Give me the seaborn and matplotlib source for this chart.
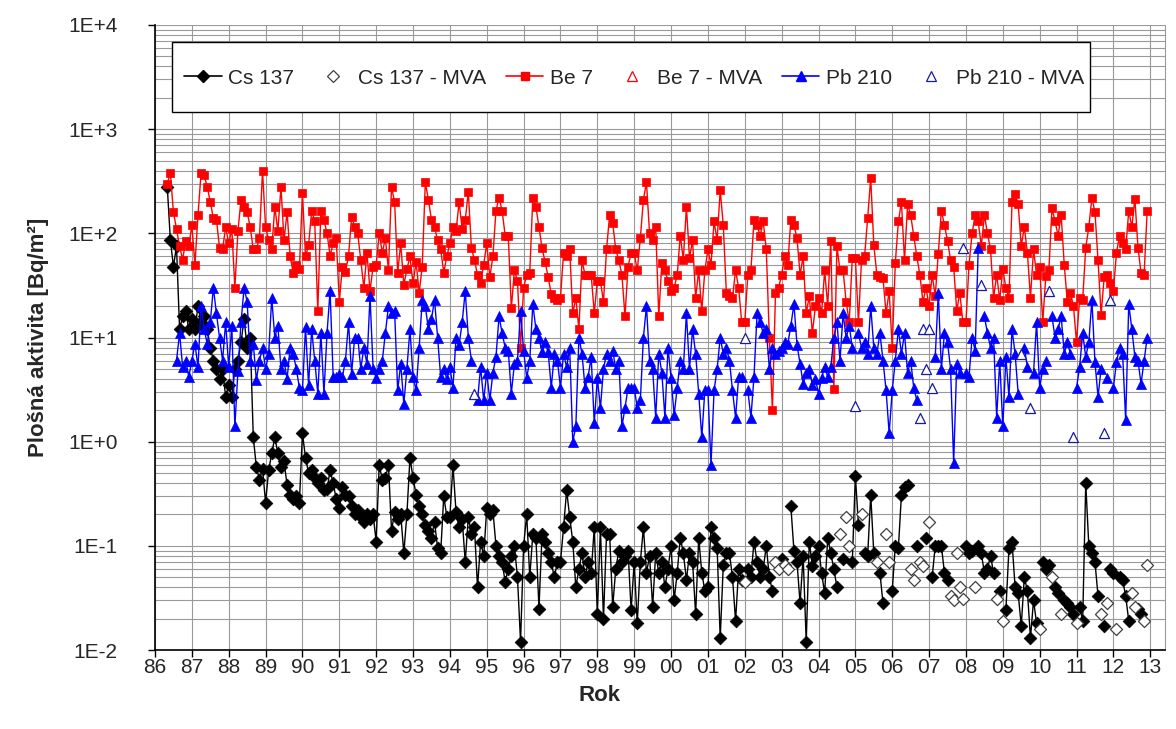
import numpy as np
import pandas as pd
import matplotlib
matplotlib.use("Agg")
import matplotlib.pyplot as plt
from matplotlib.lines import Line2D
from matplotlib.patches import Rectangle
from matplotlib.ticker import FixedLocator, FuncFormatter, LogLocator, NullFormatter
import seaborn as sns

# Monthly deposition series, first value = May 1986; None = month not measured / below MVA
START_YEAR, START_MONTH = 1986, 5

cs137 = [
    280, 86, 48, 75, 12, 16, 18, 12,
    15, 12, 20, 14, 16, 12, 8, 6, 5, 4, 5, 2.7,
    3.5, 2.7, 5, 6, 9, 15, 8, 10, 1.1, 0.57, 0.43, 0.55,
    0.26, 0.53, 0.77, 1.1, 0.77, 0.57, 0.65, 0.38, 0.31, 0.28, 0.3, 0.26,
    1.2, 0.7, 0.5, 0.53, 0.45, 0.4, 0.45, 0.34, 0.35, 0.53, 0.4, 0.28,
    0.23, 0.37, 0.31, 0.3, 0.24, 0.2, 0.22, 0.19, 0.17, 0.2, 0.18, 0.2,
    0.11, 0.6, 0.43, 0.45, 0.6, 0.14, 0.21, 0.18, 0.2, 0.085, 0.2, 0.7,
    0.45, 0.31, 0.24, 0.2, 0.16, 0.14, 0.12, 0.17, 0.095, 0.085, 0.3, 0.19,
    0.19, 0.6, 0.21, 0.15, 0.18, 0.07, 0.19, 0.13, 0.15, 0.04, 0.11, 0.08,
    0.23, 0.2, 0.22, 0.1, 0.08, 0.07, 0.045, 0.06, 0.08, 0.1, 0.05, 0.012,
    0.1, 0.2, 0.05, 0.13, 0.12, 0.025, 0.13, 0.11, 0.085, 0.07, 0.05, 0.07,
    0.07, 0.15, 0.34, 0.19, 0.11, 0.04, 0.06, 0.085, 0.05, 0.07, 0.055, 0.15,
    0.022, 0.15, 0.02, 0.13, 0.13, 0.026, 0.06, 0.09, 0.07, 0.08, 0.09, 0.024,
    0.07, 0.018, 0.07, 0.15, 0.055, 0.08, 0.026, 0.085, 0.055, 0.07, 0.04, 0.06,
    0.1, 0.03, 0.055, 0.12, 0.085, 0.047, 0.085, 0.07, 0.022, 0.12, 0.055, 0.037,
    0.04, 0.15, 0.12, 0.095, 0.013, 0.065, 0.085, 0.085, 0.05, 0.019, 0.06, 0.047,
    None, 0.06, 0.05, 0.11, 0.07, 0.05, 0.06, 0.1, 0.05, 0.037, None, None,
    0.075, None, None, 0.24, 0.09, 0.07, 0.028, 0.08, 0.012, 0.11, 0.064, 0.08,
    0.1, 0.055, 0.035, 0.12, 0.085, 0.06, 0.04, None, 0.075, None, None, 0.07,
    0.47, 0.16, None, 0.085, 0.08, 0.31, 0.085, None, 0.055, 0.028, None, None,
    0.037, 0.1, 0.095, 0.31, 0.37, 0.38, None, None, 0.1, None, None, 0.12,
    None, 0.05, 0.1, 0.1, 0.1, 0.055, 0.047, None, None, None, None, None,
    0.1, 0.085, 0.09, None, 0.1, 0.085, 0.055, 0.06, 0.08, 0.055, None, 0.037,
    None, 0.024, 0.095, 0.11, 0.04, 0.035, 0.017, 0.05, 0.037, 0.013, 0.03, 0.018,
    None, 0.07, 0.06, 0.065, None, 0.04, 0.035, None, 0.03, 0.028, 0.026, 0.022,
    None, 0.026, 0.019, 0.4, 0.1, 0.085, 0.07, 0.033, None, 0.017, None, 0.06,
    0.055, None, 0.05, 0.047, 0.033, 0.019, None, None, 0.025, 0.022, None, None,
]

be7 = [
    300, 380, 160, 110, 75, 56, 85, 75,
    120, 50, 150, 380, 360, 280, 200, 140, 135, 73, 70, 115,
    80, 110, 30, 105, 210, 180, 160, 115, 70, 70, 90, 400,
    115, 86, 70, 180, 105, 280, 86, 160, 60, 42, 50, 45,
    245, 60, 77, 165, 130, 18, 165, 135, 100, 61, 80, 90,
    22, 48, 43, 60, 145, 115, 100, 55, 30, 65, 28, 48,
    50, 100, 65, 90, 44, 280, 200, 42, 80, 32, 45, 60,
    33, 53, 27, 48, 310, 210, 135, 115, 86, 70, 42, 60,
    80, 115, 105, 200, 110, 135, 250, 73, 55, 40, 33, 50,
    80, 38, 60, 165, 220, 165, 95, 95, 19, 44, 35, 8,
    30, 40, 42, 220, 180, 115, 72, 53, 38, 26, 24, 23,
    24, 65, 60, 70, 17, 24, 12, 55, 40, 40, 40, 17,
    35, 35, 22, 70, 150, 125, 70, 55, 40, 16, 48, 65,
    65, 44, 90, 210, 310, 100, 86, 115, 16, 52, 44, 35,
    28, 30, 40, 95, 56, 180, 58, 86, 24, 44, 18, 44,
    70, 50, 130, 86, 260, 120, 27, 25, 24, 44, 30, 14,
    14, 40, 44, 135, 120, 95, 130, 70, 10, 2, 27, 30,
    40, 60, 50, 135, 120, 90, 40, 60, 17, 25, 11, 20,
    24, 17, 44, 20, 85, 3.2, 75, 44, 44, 22, 14, 58,
    58, 14, 55, 60, 140, 340, 78, 40, 38, 37, 17, 28,
    8, 52, 130, 200, 55, 190, 150, 95, 60, 40, 22, 30,
    20, 40, 25, 64, 165, 120, 85, 55, 48, 18, 27, 14,
    14, 50, 100, 150, 130, 75, 150, 100, 70, 24, 40, 23,
    45, 30, 24, 200, 240, 190, 75, 115, 65, 24, 70, 40,
    48, 14, 39, 44, 175, 130, 95, 150, 50, 22, 27, 20,
    9, 24, 23, 73, 115, 220, 160, 55, 16.5, 38, 40, 33,
    28, 65, 95, 80, 70, 165, 115, 215, 73, 42, 40, 165,
]

pb210 = [
    None, None, None, 6, 11, 5.2, 6, 4.2,
    6, 8.7, 5.2, 20, 12, 8.7, 14, 30, 17, 10, 6, 14,
    5.2, 13, 1.4, 4.8, 14, 30, 22, 6, 8.7, 3.9, 6, 8,
    5, 7, 24, 10, 13, 5, 6, 4, 8, 7, 5, 3.3,
    3.1, 12.5, 3.5, 12, 6, 2.9, 11, 2.9, 11, 28, 4.2, 4.2,
    4.5, 4.2, 6, 14, 4.5, 10, 10, 5, 8, 5.6, 25, 5,
    4.1, 5, 6, 11, 20, 17, 18, 3.1, 5.6, 2.3, 5, 12,
    4.2, 3.1, 8, 23, 20, 12, 15, 23, 10, 4.2, 5, 4,
    5.2, 3.3, 10, 8.5, 14, 28, 10, 6, None, 2.5, 5.2, 2.5,
    4.6, 2.5, 4.6, 6.5, 16, 11, 8, 7.5, 2.9, 5.6, 6, 18,
    7.5, 4.1, 6, 21, 12, 10, 7.2, 9, 7.2, 3.3, 7, 6,
    3.3, 7, 5.2, 8, 1.0, 1.4, 10, 7, 3.3, 4.2, 6.5, 1.5,
    4.1, 2.1, 5, 7, 6, 7.5, 5, 6, 1.4, 2.1, 3.3, 3.3,
    3.3, 2.1, 2.5, 10, 20, 6, 5, 1.7, 7, 4.6, 1.7, 8,
    4.1, 1.8, 3.3, 6, 5, 17, 5, 12, 7, 2.9, 1.1, 3.1,
    3.1, 0.6, 3.1, 5, 10, 7, 8, 6, 3.1, 1.7, 4.2, 4.2,
    None, 3.1, 1.7, 4.2, 17, 14, 11, 12, 5, 8, 7, 7.5,
    8, 9, 8.7, 13, 21, 8.5, 5.6, 3.6, 4.6, 5, 3.5, 4,
    2.9, 4.1, 5.2, 4.2, 5.2, 10, 14, 6, 17, 10, 13, 8,
    None, 11, 8, 9, 7, 20, 8, 7, 11, 6, 3.1, 1.2,
    3.1, 6, 12, 7, 11, 4.6, 6, 3.3, 2.5, None, None, None,
    None, None, 6.5, 27, 5, 11, 9, 5, 0.62, 5.6, 4.6, None,
    4.6, 4.2, 10, 7.5, 72, None, 16, 11, 8, 10, 1.7, 6,
    1.4, 6.5, 2.7, 12, 7, 2.9, None, 8, 5.2, None, 4.6, 14,
    3.3, 5, 6, None, 16, 10, 12, 16, 7, 9, 7, None,
    3.3, 5.2, 11, 6.5, 9, 23, 5.8, 2.7, 5, None, 4.1, None,
    3.3, 5.8, 8, 7, 1.6, 21, 12, 6.5, 6, 3.6, 6, 10,
]

# Values below the minimum significant activity (MVA), by month
cs137_mva_months = [
    "2002-01", "2002-11", "2002-12", "2003-02", "2003-03", "2004-08", "2004-10",
    "2004-11", "2005-03", "2005-08", "2005-11", "2005-12", "2006-07", "2006-08",
    "2006-10", "2006-11", "2007-01", "2007-08", "2007-09", "2007-10", "2007-11",
    "2007-12", "2008-04", "2008-11", "2009-01", "2010-01", "2010-05", "2010-08",
    "2011-01", "2011-09", "2011-11", "2012-02", "2012-07", "2012-08", "2012-11",
    "2012-12",
]
cs137_mva = [
    0.045, 0.07, 0.06, 0.065, 0.06, 0.13, 0.19,
    0.1, 0.2, 0.07, 0.13, 0.07, 0.06, 0.047,
    0.07, 0.064, 0.17, 0.033, 0.03, 0.085, 0.04,
    0.031, 0.04, 0.031, 0.019, 0.016, 0.05, 0.022,
    0.018, 0.022, 0.028, 0.016, 0.035, 0.026, 0.019,
    0.065,
]

be7_mva_months = []
be7_mva = []

pb210_mva_months = [
    "1994-09", "2002-01", "2005-01", "2006-10", "2006-11", "2006-12", "2007-01",
    "2007-02", "2007-12", "2008-06", "2009-07", "2009-10", "2010-04", "2010-12",
    "2011-10", "2011-12",
]
pb210_mva = [2.9, 10, 2.2, 1.7, 12, 5, 12, 3.3, 72, 32, 7, 2.1, 28, 1.1, 1.2, 23]

year_ticks = list(range(1986, 2014))
decade_ticks = [1e-2, 1e-1, 1e0, 1e1, 1e2, 1e3, 1e4]

y_title = "Plošná aktivita [Bq/m²]"
x_title = "Rok"
labels = ["Cs 137", "Cs 137 - MVA", "Be 7", "Be 7 - MVA", "Pb 210", "Pb 210 - MVA"]


def month_pos(i):
    m = START_MONTH - 1 + i
    return START_YEAR + m // 12 + (m % 12) / 12


def ym_pos(s):
    y, m = (int(p) for p in s.split("-"))
    return y + (m - 1) / 12


def series_frame(values):
    v = pd.Series([np.nan if x is None else x for x in values], dtype=float)
    df = pd.DataFrame({"t": [month_pos(i) for i in range(len(values))], "v": v})
    df["seg"] = df["v"].isna().cumsum()
    return df.dropna()


def mva_frame(months, values):
    return pd.DataFrame({"t": [ym_pos(s) for s in months], "v": pd.Series(values, dtype=float)})


sns.set_theme(style="white")
plt.rcParams["font.family"] = ["Liberation Sans", "DejaVu Sans"]

W, H = 1176, 729
fig = plt.figure(figsize=(W / 100, H / 100), dpi=100)
ax = fig.add_axes([155 / W, 1 - 650 / H, 1010 / W, 625 / H])

RED = "#ff0000"
BLUE = "#0000ff"

styles = [
    (cs137, "black", "D", 42),
    (be7, RED, "s", 34),
    (pb210, BLUE, "^", 52),
]
z = 3
for values, color, marker, size in styles:
    df = series_frame(values)
    sns.lineplot(data=df, x="t", y="v", units="seg", estimator=None, sort=False,
                 color=color, lw=1.0, ax=ax, legend=False, zorder=z)
    sns.scatterplot(data=df, x="t", y="v", marker=marker, s=size, color=color,
                    edgecolor=color, linewidth=0.5, ax=ax, legend=False, zorder=z + 0.5)
    z += 1

mva_styles = [
    (cs137_mva_months, cs137_mva, "#404040", "D", 38),
    (be7_mva_months, be7_mva, RED, "^", 52),
    (pb210_mva_months, pb210_mva, "#1a1aa0", "^", 52),
]
for months, values, color, marker, size in mva_styles:
    if not months:
        continue
    df = mva_frame(months, values)
    sns.scatterplot(data=df, x="t", y="v", marker=marker, s=size, facecolor="white",
                    edgecolor=color, linewidth=0.9, ax=ax, legend=False, zorder=7)

ax.set_yscale("log")
ax.set_ylim(1e-2, 1e4)
ax.set_xlim(1986, 2013.4)

ax.xaxis.set_major_locator(FixedLocator(year_ticks))
ax.xaxis.set_major_formatter(FuncFormatter(lambda v, p: f"{int(round(v)) % 100:02d}"))
ax.yaxis.set_major_locator(FixedLocator(decade_ticks))
ax.yaxis.set_major_formatter(FuncFormatter(lambda v, p: f"1E{int(round(np.log10(v))):+d}"))
ax.yaxis.set_minor_locator(LogLocator(base=10, subs=np.arange(2, 10), numticks=20))
ax.yaxis.set_minor_formatter(NullFormatter())

ax.grid(True, which="major", axis="both", color="#9a9a9a", lw=0.8)
ax.grid(True, which="minor", axis="y", color="#9a9a9a", lw=0.8)
ax.set_axisbelow(True)

ax.tick_params(axis="x", which="major", direction="out", length=5, width=1,
               color="black", labelsize=15, pad=1, bottom=True)
ax.tick_params(axis="y", which="major", direction="out", length=5, width=1,
               color="black", labelsize=15, pad=22, left=True)
ax.tick_params(axis="y", which="minor", length=0)

ax.spines["top"].set_visible(False)
ax.spines["right"].set_color("#9a9a9a")
ax.spines["right"].set_linewidth(0.8)
for side in ("left", "bottom"):
    ax.spines[side].set_color("black")
    ax.spines[side].set_linewidth(1.2)

ax.set_xlabel(x_title, fontsize=16, fontweight="bold")
ax.set_ylabel(y_title, fontsize=16, fontweight="bold", labelpad=14)
ax.xaxis.set_label_coords((599 - 155) / 1010, -0.056)


def to_axes(px, py):
    return (px - 155) / 1010, (650 - py) / 625


# Legend frame, then the entries spread across it
x0, y1 = to_axes(172, 112)
x1, y0 = to_axes(1090, 42)
ax.add_patch(Rectangle((x0, y1), x1 - x0, y0 - y1, transform=ax.transAxes,
                       facecolor="white", edgecolor="black", lw=1.0, zorder=9, clip_on=False))

handles = [
    Line2D([], [], color="black", lw=1.2, marker="D", ms=6.5),
    Line2D([], [], ls="none", marker="D", ms=6.5, mfc="white", mec="#404040", mew=0.9),
    Line2D([], [], color=RED, lw=1.2, marker="s", ms=6),
    Line2D([], [], ls="none", marker="^", ms=7.5, mfc="white", mec=RED, mew=0.9),
    Line2D([], [], color=BLUE, lw=1.2, marker="^", ms=7.5),
    Line2D([], [], ls="none", marker="^", ms=7.5, mfc="white", mec="#1a1aa0", mew=0.9),
]
ex0, _ = to_axes(184, 0)
ex1, _ = to_axes(1084, 0)
_, ey = to_axes(0, 78)
leg = ax.legend(handles, labels, ncol=6, mode="expand", loc="center",
                bbox_to_anchor=(ex0, ey - 0.02, ex1 - ex0, 0.04),
                fontsize=15, frameon=False, borderpad=0,
                handlelength=1.8, handletextpad=0.3, columnspacing=0.5, borderaxespad=0)
leg.set_zorder(10)

fig.savefig("out.png", dpi=100, facecolor="white")
